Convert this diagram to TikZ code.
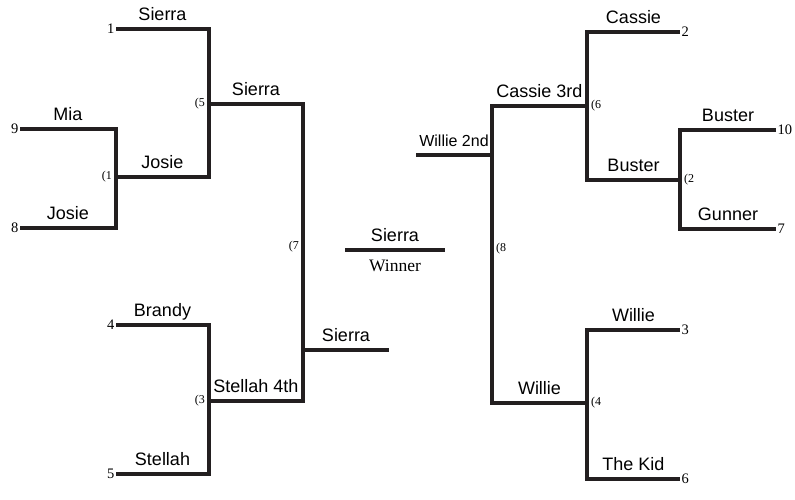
\documentclass[tikz,border=0pt]{standalone}
\usepackage{fontspec}
\setmainfont{Liberation Serif}
\newfontfamily\bracketsans{Liberation Sans}
\usetikzlibrary{calc}
\definecolor{bracketink}{HTML}{231F20}
\tikzset{
  % The bracket lines
  bline/.style={draw=bracketink, line width=3.3pt, line join=miter, line cap=butt},
  % A player's name sitting on a line
  who/.style={font=\bracketsans\fontsize{18}{20}\selectfont, anchor=base,
    yshift=9pt, inner sep=0pt},
  whosmall/.style={who, font=\bracketsans\fontsize{16}{18}\selectfont},
  % Seed numbers at the open ends
  seed/.style={font=\fontsize{14.5}{16}\selectfont, inner sep=1.5pt},
  % Game numbers beside the joins
  game/.style={font=\fontsize{12}{13}\selectfont, inner sep=4pt},
}
\newcommand{\seat}[6][who]{%
  \coordinate (#2-w) at (#3,#5);
  \coordinate (#2-e) at (#4,#5);
  \path (#2-w) -- (#2-e) node[#1, midway] (#2-lbl) {#6};}

\begin{document}
\begin{tikzpicture}[x=1pt, y=-1pt]

  \useasboundingbox (0,0) rectangle (795,499);

  % left half
  \seat{sierraA}{116}{209}{29}{Sierra}
  \seat{mia}{20}{116}{129}{Mia}
  \seat{josieA}{20}{116}{228}{Josie}
  \seat{josieB}{116}{209}{177}{Josie}
  \seat{sierraB}{209}{303}{104}{Sierra}
  \seat{brandy}{116}{209}{325}{Brandy}
  \seat{stellahA}{116}{209}{474}{Stellah}
  \seat{stellahB}{209}{303}{401}{Stellah 4th}
  \seat{sierraC}{303}{389}{350}{Sierra}

  \draw[bline] (mia-w) -- (mia-e) -- (josieA-e) -- (josieA-w);
  \draw[bline] (sierraA-w) -- (sierraA-e) -- (josieB-e) -- (josieB-w);
  \draw[bline] (brandy-w) -- (brandy-e) -- (stellahA-e) -- (stellahA-w);
  \draw[bline] (sierraB-w) -- (sierraB-e) -- (stellahB-e) -- (stellahB-w);
  \draw[bline] (sierraC-w) -- (sierraC-e);

  \node[seed, anchor=east] (n1) at (sierraA-w) {1};
  \node[seed, anchor=east] (n9) at (mia-w) {9};
  \node[seed, anchor=east] (n8) at (josieA-w) {8};
  \node[seed, anchor=east] (n4) at (brandy-w) {4};
  \node[seed, anchor=east] (n5) at (stellahA-w) {5};

  \node[game, anchor=east] (g1) at (josieB-w) {(1};
  \node[game, anchor=east] (g5) at (sierraB-w) {(5};
  \node[game, anchor=east] (g3) at (stellahB-w) {(3};
  \node[game, anchor=east] (g7) at ($(sierraB-e)!0.48!(stellahB-e)$) {(7};

  % the winner
  \seat{champ}{345}{445}{250}{Sierra}
  \draw[bline] (champ-w) -- (champ-e);
  \node[font=\fontsize{17.5}{19}\selectfont, anchor=base, inner sep=0pt]
    (champ-title) at ($(champ-w)!0.5!(champ-e)+(0,21)$) {Winner};

  % right half
  \seat{cassieA}{587}{680}{32}{Cassie}
  \seat{busterA}{680}{776}{130}{Buster}
  \seat{gunner}{680}{776}{229}{Gunner}
  \seat{busterB}{587}{680}{180}{Buster}
  \seat{cassieB}{492}{587}{106}{Cassie 3rd}
  \seat{willieA}{587}{680}{330}{Willie}
  \seat{kid}{587}{680}{479}{The Kid}
  \seat{willieB}{492}{587}{403}{Willie}
  \seat[whosmall]{willieC}{416}{492}{155}{Willie 2nd}

  \draw[bline] (busterA-e) -- (busterA-w) -- (gunner-w) -- (gunner-e);
  \draw[bline] (cassieA-e) -- (cassieA-w) -- (busterB-w) -- (busterB-e);
  \draw[bline] (willieA-e) -- (willieA-w) -- (kid-w) -- (kid-e);
  \draw[bline] (cassieB-e) -- (cassieB-w) -- (willieB-w) -- (willieB-e);
  \draw[bline] (willieC-w) -- (willieC-e);

  \node[seed, anchor=west] (n2) at (cassieA-e) {2};
  \node[seed, anchor=west] (n10) at (busterA-e) {10};
  \node[seed, anchor=west] (n7) at (gunner-e) {7};
  \node[seed, anchor=west] (n3) at (willieA-e) {3};
  \node[seed, anchor=west] (n6) at (kid-e) {6};

  \node[game, anchor=west] (g2) at (busterB-e) {(2};
  \node[game, anchor=west] (g6) at (cassieB-e) {(6};
  \node[game, anchor=west] (g4) at (willieB-e) {(4};
  \node[game, anchor=west] (g8) at ($(cassieB-w)!0.48!(willieB-w)$) {(8};

\end{tikzpicture}
\end{document}
